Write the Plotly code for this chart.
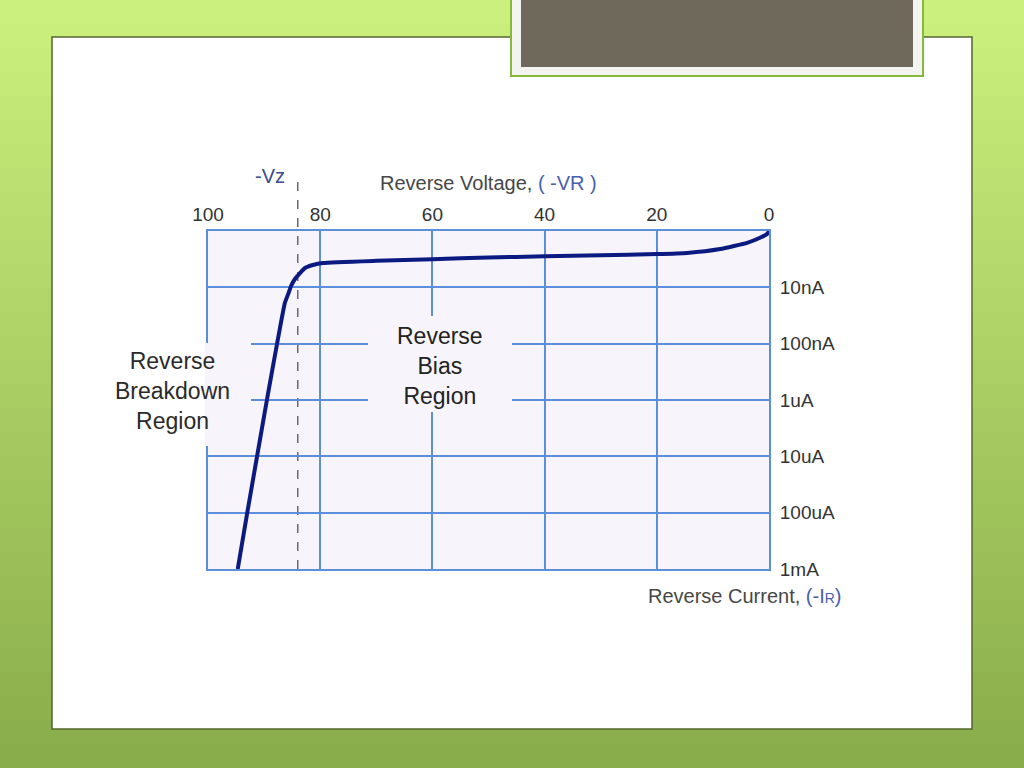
import plotly.graph_objects as go

# ---- data ----
reverse_voltage = [0, 0.3, 1.6, 3.9, 8.7, 14.6, 20, 30, 40, 50, 60, 70, 79.5,
                   81.3, 82.7, 83.6, 84.5, 85.2, 85.7, 86.3, 89.5, 93.0, 94.7]
reverse_current = [1.0e-9, 1.12e-9, 1.32e-9, 1.62e-9, 2.09e-9, 2.45e-9, 2.57e-9,
                   2.69e-9, 2.82e-9, 2.95e-9, 3.16e-9, 3.39e-9, 3.70e-9,
                   4.02e-9, 4.54e-9, 5.57e-9, 7.11e-9, 9.46e-9, 1.31e-8, 1.90e-8,
                   1.0e-6, 1.0e-4, 1.0e-3]
vz = 84
x_ticks = [100, 80, 60, 40, 20, 0]
y_ticks = [1e-8, 1e-7, 1e-6, 1e-5, 1e-4, 1e-3]
y_tick_labels = ["10nA", "100nA", "1uA", "10uA", "100uA", "1mA"]

W, H = 1024, 768
def px(x):
    return x / W
def py(y):
    return 1 - y / H

FONT = "Liberation Sans, Arial, sans-serif"
GRID = "#5b8fdc"
PLOTBG = "#f7f4fc"

shapes = []
# green gradient background bands
top = (0xcb, 0xf0, 0x7d)
bot = (0x8a, 0xad, 0x4b)
n = 32
for i in range(n):
    t = i / (n - 1)
    c = tuple(int(round(top[k] + (bot[k] - top[k]) * t)) for k in range(3))
    shapes.append(dict(type="rect", xref="paper", yref="paper", layer="below",
                       x0=0, x1=1, y0=1 - (i + 1) / n - 0.002, y1=1 - i / n,
                       fillcolor="rgb(%d,%d,%d)" % c, line_width=0))
# white slide panel
shapes.append(dict(type="rect", xref="paper", yref="paper", layer="below",
                   x0=px(52), x1=px(972), y0=py(729), y1=py(37),
                   fillcolor="white", line=dict(color="#56662f", width=1.5)))
# title box
shapes.append(dict(type="rect", xref="paper", yref="paper", layer="below",
                   x0=px(511), x1=px(923), y0=py(76), y1=py(-5),
                   fillcolor="#f3f3f1", line=dict(color="#86b83a", width=2)))
shapes.append(dict(type="rect", xref="paper", yref="paper", layer="below",
                   x0=px(521), x1=px(913), y0=py(67), y1=py(-5),
                   fillcolor="#6f695b", line_width=0))
# plot background
shapes.append(dict(type="rect", xref="paper", yref="paper", layer="below",
                   x0=px(208), x1=px(769), y0=py(569), y1=py(231),
                   fillcolor=PLOTBG, line_width=0))
# -Vz dashed line
shapes.append(dict(type="line", xref="x", yref="paper", layer="between",
                   x0=vz, x1=vz, y0=py(569), y1=py(173),
                   line=dict(color="#6a6a6a", width=1.5, dash="dash")))
# label masks hiding the grid behind the region labels
shapes.append(dict(type="rect", xref="paper", yref="paper", layer="above",
                   x0=px(368), x1=px(512), y0=py(412), y1=py(316),
                   fillcolor=PLOTBG, line_width=0))
shapes.append(dict(type="rect", xref="paper", yref="paper", layer="above",
                   x0=px(205), x1=px(251), y0=py(446), y1=py(343),
                   fillcolor=PLOTBG, line_width=0))

fig = go.Figure()
fig.add_trace(go.Scatter(x=reverse_voltage, y=reverse_current, mode="lines",
                         line=dict(color="#0b1a80", width=4, shape="spline", smoothing=0.4),
                         hoverinfo="skip", showlegend=False))

def label(text, x, y, size, color):
    return dict(text=text, x=px(x), y=py(y), xref="paper", yref="paper",
                xanchor="center", yanchor="middle", showarrow=False,
                font=dict(family=FONT, size=size, color=color))

annotations = [
    label("Reverse<br>Bias<br>Region", 440, 366, 23, "#222222"),
    label("Reverse<br>Breakdown<br>Region", 172, 391, 23, "#2a2a2a"),
    label('Reverse Voltage, <span style="color:#4a5fae">( -VR )</span>', 488, 183, 20, "#474747"),
    label('Reverse Current, <span style="color:#4a5fae">(-I<span style="font-size:14px">R</span>)</span>',
          745, 596, 20, "#474747"),
    label("-Vz", 270, 176, 20, "#3b4a8c"),
]

fig.update_layout(
    width=W, height=H, margin=dict(l=0, r=0, t=0, b=0, autoexpand=False),
    paper_bgcolor="#b0d866", plot_bgcolor="rgba(0,0,0,0)",
    shapes=shapes, annotations=annotations, showlegend=False,
    xaxis=dict(domain=[px(208), px(769)], range=[100, 0], side="top", automargin=False,
               tickvals=x_ticks, ticktext=[str(v) for v in x_ticks],
               showgrid=True, gridcolor=GRID, gridwidth=1.5, zeroline=False,
               showline=True, mirror=True, linecolor=GRID, linewidth=2,
               tickfont=dict(family=FONT, size=19, color="#333333"), ticks=""),
    yaxis=dict(domain=[py(569), py(231)], type="log", range=[-3, -9], side="right",
               automargin=False,
               tickvals=y_ticks, ticktext=y_tick_labels,
               showgrid=True, gridcolor=GRID, gridwidth=1.5, zeroline=False,
               showline=True, mirror=True, linecolor=GRID, linewidth=2,
               tickfont=dict(family=FONT, size=19, color="#333333"), ticks="",
               ticklabelstandoff=5),
)

fig.write_html("out.html", config={"displayModeBar": False},
               post_script="document.body.style.margin='0';")
